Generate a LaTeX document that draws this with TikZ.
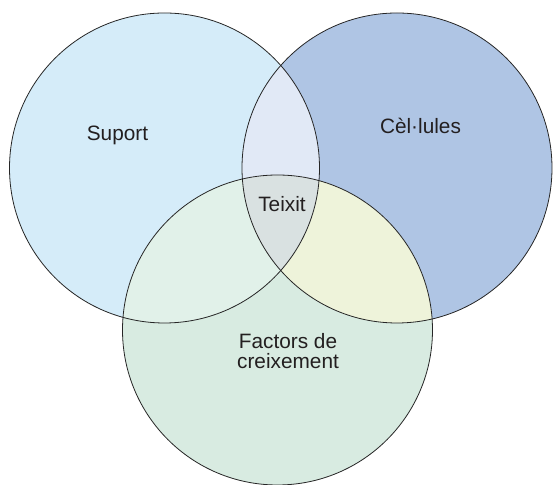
\documentclass[tikz,border=0pt]{standalone}
\usepackage{fontspec}
\setmainfont{Liberation Sans}
\definecolor{suportblue}{HTML}{D5ECF9}
\definecolor{cellblue}{HTML}{AFC5E4}
\definecolor{factgreen}{HTML}{D8EBE1}
\definecolor{scblue}{HTML}{E1E9F6}
\definecolor{sfgreen}{HTML}{E1F1E9}
\definecolor{cfyellow}{HTML}{EEF3DA}
\definecolor{allgray}{HTML}{D9E1E1}
\definecolor{txtgray}{HTML}{231F20}

\begin{document}
\begin{tikzpicture}[x=0.5pt, y=-0.5pt,
		setlabel/.style={anchor=base, text=txtgray, align=center, font=\fontsize{10.4}{10}\selectfont},
		rad/.style={radius=77.5pt}]
		\useasboundingbox (0, 0) rectangle (553, 485);
		\coordinate (suport) at (164.5, 168);
		\coordinate (cells) at (397, 168);
		\coordinate (factors) at (277.5, 330);
		
		\fill[suportblue] (suport) circle[rad];
		\fill[cellblue] (cells) circle[rad];
		\fill[factgreen] (factors) circle[rad];
		\begin{scope}
			\clip (cells) circle[rad];
			\fill[cfyellow] (factors) circle[rad];
		\end{scope}
		\begin{scope}
			\clip (suport) circle[rad];
			\fill[scblue] (cells) circle[rad];
			\fill[sfgreen] (factors) circle[rad];
			\clip (cells) circle[rad];
			\fill[allgray] (factors) circle[rad];
		\end{scope}
		
		\draw[line width=0.4pt, black!85] (suport) circle[rad];
		\draw[line width=0.4pt, black!85] (cells) circle[rad];
		\draw[line width=0.4pt, black!85] (factors) circle[rad];
		
		\node[setlabel] (suportlabel) at (117.5, 141) {Suport};
		\node[setlabel] (cellslabel) at (420.5, 134) {Cèl·lules};
		\node[setlabel] (teixitlabel) at (282, 212) {Teixit};
		\node[setlabel] (factorslabel) at (288, 369) {Factors de\\creixement};
	\end{tikzpicture}
\end{document}
